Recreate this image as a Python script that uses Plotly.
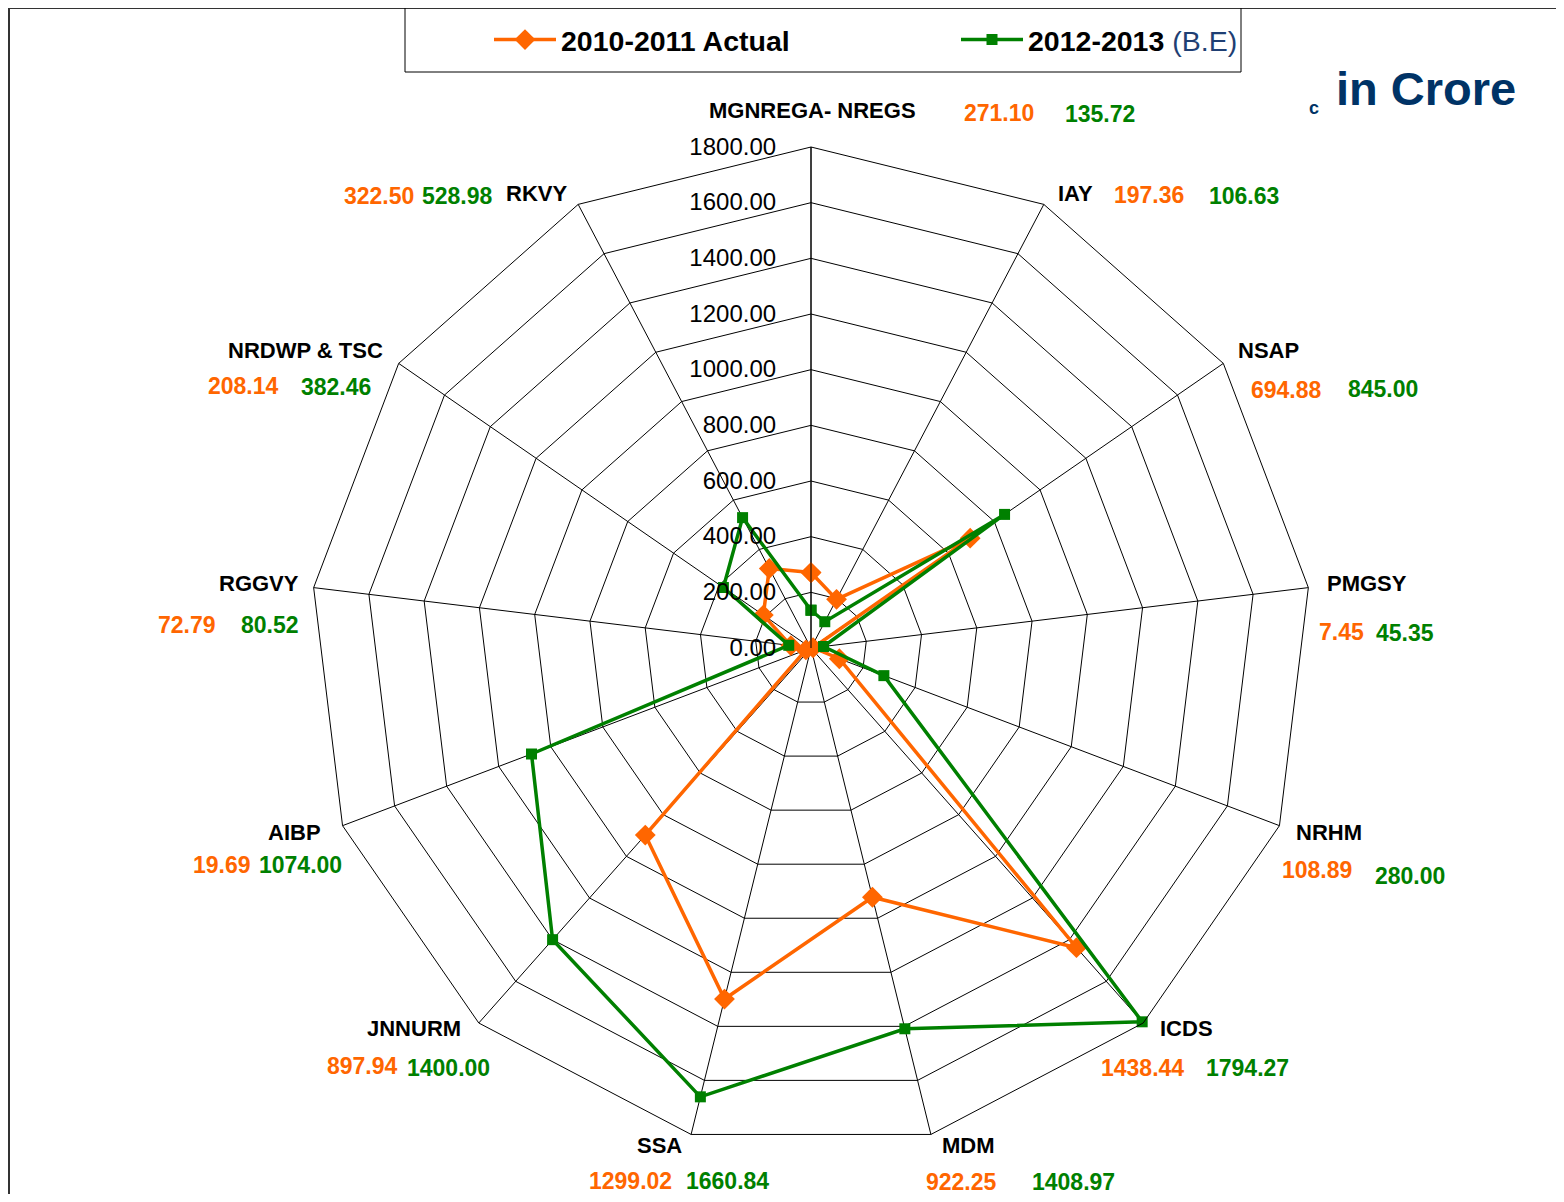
import plotly.graph_objects as go

# ---------------- data ----------------
categories = ["MGNREGA- NREGS", "IAY", "NSAP", "PMGSY", "NRHM", "ICDS", "MDM",
              "SSA", "JNNURM", "AIBP", "RGGVY", "NRDWP & TSC", "RKVY"]
actual_2010_11 = [271.10, 197.36, 694.88, 7.45, 108.89, 1438.44, 922.25,
                  1299.02, 897.94, 19.69, 72.79, 208.14, 322.50]
be_2012_13 = [135.72, 106.63, 845.00, 45.35, 280.00, 1794.27, 1408.97,
              1660.84, 1400.00, 1074.00, 80.52, 382.46, 528.98]
radial_ticks = [0, 200, 400, 600, 800, 1000, 1200, 1400, 1600, 1800]

# ---------------- style / layout constants ----------------
PAGE_MARGIN = 8                      # default body margin of the html page
W, H = 1564 - 2 * PAGE_MARGIN, 1202 - 2 * PAGE_MARGIN
ORANGE = "#ff6600"
GREEN = "#008000"
NAVY = "#003366"
FONT = "Liberation Sans, Arial, sans-serif"

def px(x):
    return (x - PAGE_MARGIN) / W

def py(y):
    return 1 - (y - PAGE_MARGIN) / H

# label positions (page pixel centres) for category name, orange value, green value
name_pos = [(812, 110), (1075, 193), (1268, 351), (1367, 583), (1329, 832),
            (1186, 1028), (968, 1145), (659, 1145), (414, 1028), (294, 832),
            (259, 583), (305, 351), (536, 193)]
orange_pos = [(999, 113), (1149, 195), (1286, 390), (1341, 632), (1317, 870),
              (1142, 1068), (961, 1182), (630, 1181), (362, 1066), (222, 865),
              (187, 625), (243, 386), (379, 196)]
green_pos = [(1100, 114), (1244, 196), (1383, 389), (1405, 633), (1410, 876),
             (1247, 1068), (1073, 1182), (727, 1181), (448, 1068), (300, 865),
             (270, 625), (336, 387), (457, 196)]

fig = go.Figure()

theta_closed = categories + [categories[0]]
fig.add_trace(go.Scatterpolar(
    r=actual_2010_11 + [actual_2010_11[0]], theta=theta_closed,
    mode="lines+markers", name="<b>2010-2011 Actual</b>",
    line=dict(color=ORANGE, width=3.5),
    marker=dict(symbol="diamond", size=16, color=ORANGE),
))
fig.add_trace(go.Scatterpolar(
    r=be_2012_13 + [be_2012_13[0]], theta=theta_closed,
    mode="lines+markers",
    name="<b>2012-2013</b> <span style='color:#1f3f73'>(B.E)</span>",
    line=dict(color=GREEN, width=3.5),
    marker=dict(symbol="square", size=11, color=GREEN),
))

annotations = []
for i, cat in enumerate(categories):
    annotations.append(dict(
        x=px(name_pos[i][0]), y=py(name_pos[i][1]), xref="paper", yref="paper",
        text=f"<b>{cat}</b>", showarrow=False, xanchor="center", yanchor="middle",
        font=dict(size=22, color="black", family=FONT)))
    annotations.append(dict(
        x=px(orange_pos[i][0]), y=py(orange_pos[i][1]), xref="paper", yref="paper",
        text=f"<b>{actual_2010_11[i]:.2f}</b>", showarrow=False,
        xanchor="center", yanchor="middle",
        font=dict(size=23, color=ORANGE, family=FONT)))
    annotations.append(dict(
        x=px(green_pos[i][0]), y=py(green_pos[i][1]), xref="paper", yref="paper",
        text=f"<b>{be_2012_13[i]:.2f}</b>", showarrow=False,
        xanchor="center", yanchor="middle",
        font=dict(size=23, color=GREEN, family=FONT)))

annotations.append(dict(
    x=px(1518), y=py(88), xref="paper", yref="paper", text="<b>in Crore</b>",
    showarrow=False, xanchor="right", yanchor="middle",
    font=dict(size=47, color=NAVY, family=FONT)))
annotations.append(dict(
    x=px(1314), y=py(108), xref="paper", yref="paper", text="<b>c</b>",
    showarrow=False, xanchor="center", yanchor="middle",
    font=dict(size=18, color=NAVY, family=FONT)))

shapes = [
    # page frame edges (left and top)
    dict(type="line", xref="paper", yref="paper", x0=px(9), x1=px(9), y0=0, y1=1,
         line=dict(color="#333333", width=2)),
    dict(type="line", xref="paper", yref="paper", x0=px(9), x1=1, y0=1, y1=1,
         line=dict(color="#333333", width=2)),
    # legend box
    dict(type="rect", xref="paper", yref="paper", x0=px(405), x1=px(1241),
         y0=py(72), y1=py(7), line=dict(color="black", width=1),
         fillcolor="rgba(0,0,0,0)"),
]

fig.update_layout(
    width=W, height=H,
    margin=dict(l=0, r=0, t=0, b=0),
    paper_bgcolor="white", plot_bgcolor="white",
    font=dict(family=FONT, color="black"),
    showlegend=True,
    legend=dict(orientation="h", x=px(489), y=py(40), xanchor="left", yanchor="middle",
                font=dict(size=28.5, color="black", family=FONT),
                bgcolor="rgba(0,0,0,0)", borderwidth=0,
                entrywidth=390, entrywidthmode="pixels", itemwidth=62),
    polar=dict(
        domain=dict(x=[px(310), px(1312)], y=[py(1149), py(147)]),
        bgcolor="white",
        gridshape="linear",
        angularaxis=dict(
            type="category", categoryarray=categories,
            direction="clockwise", rotation=90,
            showticklabels=False, ticks="",
            showgrid=True, gridcolor="black", gridwidth=1,
            showline=True, linecolor="black", linewidth=1,
        ),
        radialaxis=dict(
            range=[0, 1800], tickvals=radial_ticks, tickformat=".2f",
            angle=90, side="counterclockwise", tickangle=90,
            showgrid=True, gridcolor="black", gridwidth=1,
            showline=True, linecolor="black", linewidth=1,
            ticks="outside", ticklen=26, tickcolor="rgba(0,0,0,0)",
            tickfont=dict(size=24, color="black", family=FONT),
        ),
    ),
    annotations=annotations,
    shapes=shapes,
)

fig.write_html("out.html")
